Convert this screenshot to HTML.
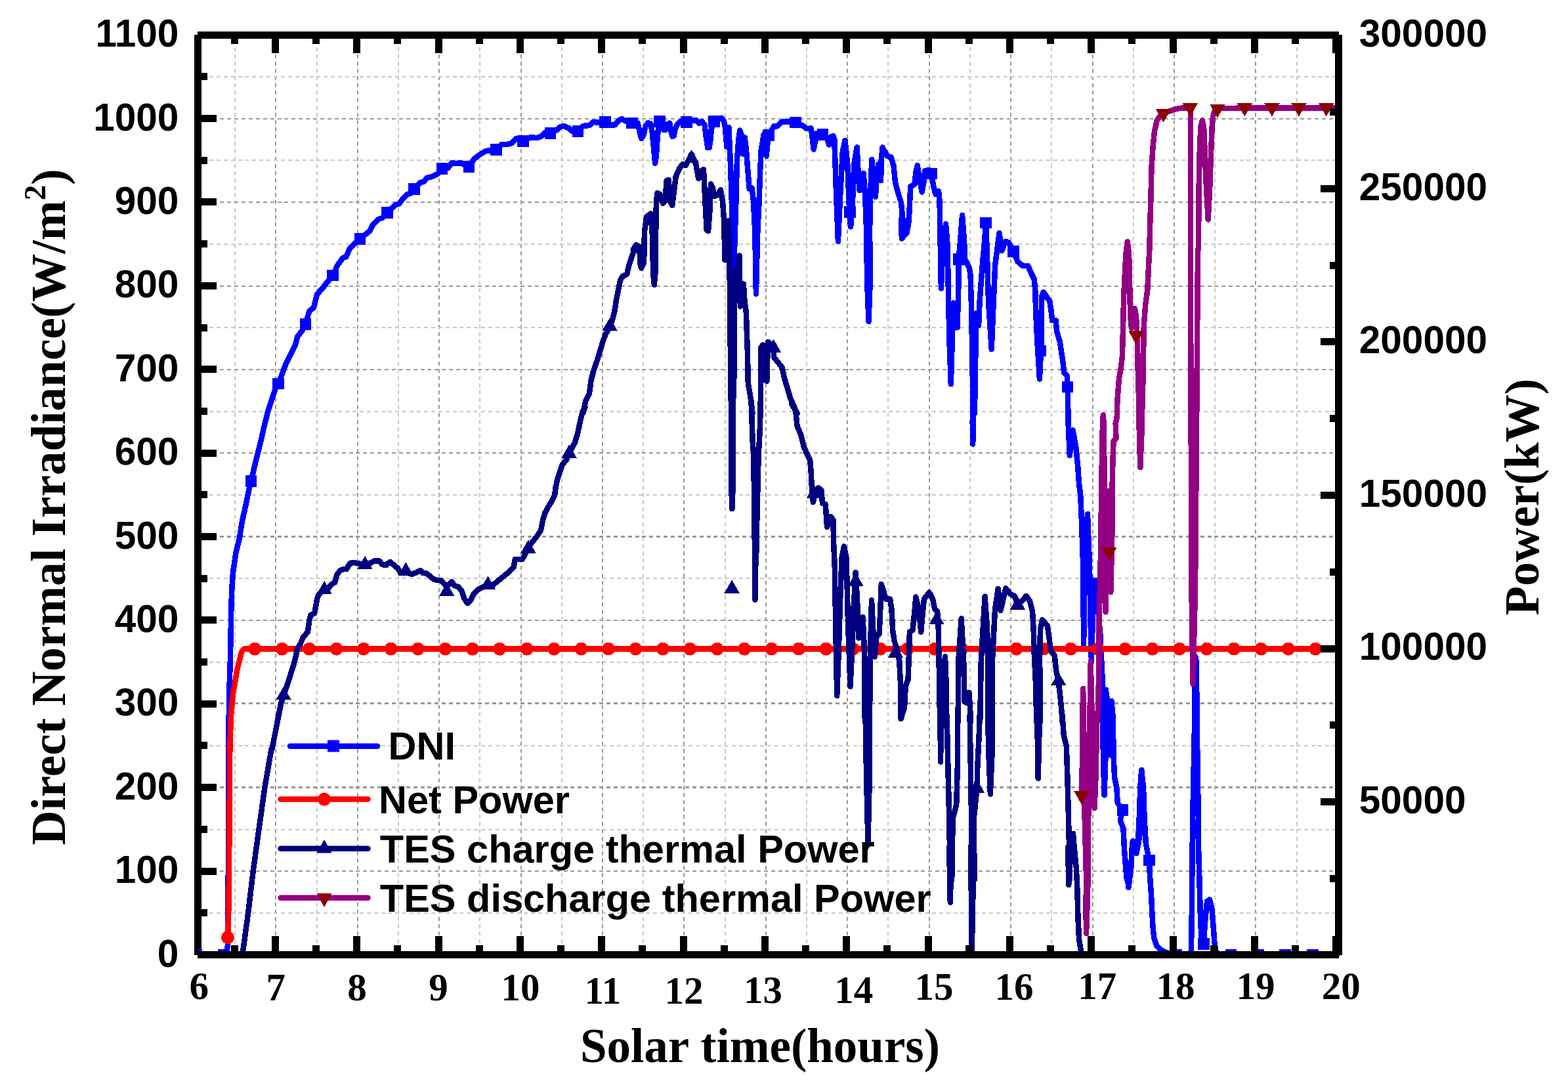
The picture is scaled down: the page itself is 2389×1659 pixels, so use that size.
<!DOCTYPE html>
<html lang="en"><head><meta charset="utf-8"><title>DNI and Power vs Solar time</title>
<style>html,body{margin:0;padding:0;background:#fff;}body{width:2389px;height:1659px;overflow:hidden;}svg{display:block;}.sans{font-family:"Liberation Sans",Arial,Helvetica,sans-serif;font-weight:bold;}.serif{font-family:"Liberation Serif","Times New Roman",Times,serif;font-weight:bold;}</style></head><body>
<svg width="2389" height="1659" viewBox="0 0 2389 1659">
<rect x="0" y="0" width="2389" height="1659" fill="#ffffff"/>
<g shape-rendering="crispEdges" fill="none"><line x1="358" y1="71.5" x2="358" y2="1449" stroke="#c8c8c8" stroke-width="2" stroke-dasharray="6 5.14"/><line x1="420" y1="71.5" x2="420" y2="1449" stroke="#999999" stroke-width="2" stroke-dasharray="6 5.14"/><line x1="483" y1="71.5" x2="483" y2="1449" stroke="#c8c8c8" stroke-width="2" stroke-dasharray="6 5.14"/><line x1="545" y1="71.5" x2="545" y2="1449" stroke="#999999" stroke-width="2" stroke-dasharray="6 5.14"/><line x1="607" y1="71.5" x2="607" y2="1449" stroke="#c8c8c8" stroke-width="2" stroke-dasharray="6 5.14"/><line x1="669" y1="71.5" x2="669" y2="1449" stroke="#999999" stroke-width="2" stroke-dasharray="6 5.14"/><line x1="731" y1="71.5" x2="731" y2="1449" stroke="#c8c8c8" stroke-width="2" stroke-dasharray="6 5.14"/><line x1="794" y1="71.5" x2="794" y2="1449" stroke="#999999" stroke-width="2" stroke-dasharray="6 5.14"/><line x1="856" y1="71.5" x2="856" y2="1449" stroke="#c8c8c8" stroke-width="2" stroke-dasharray="6 5.14"/><line x1="918" y1="71.5" x2="918" y2="1449" stroke="#999999" stroke-width="2" stroke-dasharray="6 5.14"/><line x1="980" y1="71.5" x2="980" y2="1449" stroke="#c8c8c8" stroke-width="2" stroke-dasharray="6 5.14"/><line x1="1042" y1="71.5" x2="1042" y2="1449" stroke="#999999" stroke-width="2" stroke-dasharray="6 5.14"/><line x1="1105" y1="71.5" x2="1105" y2="1449" stroke="#c8c8c8" stroke-width="2" stroke-dasharray="6 5.14"/><line x1="1167" y1="71.5" x2="1167" y2="1449" stroke="#999999" stroke-width="2" stroke-dasharray="6 5.14"/><line x1="1229" y1="71.5" x2="1229" y2="1449" stroke="#c8c8c8" stroke-width="2" stroke-dasharray="6 5.14"/><line x1="1291" y1="71.5" x2="1291" y2="1449" stroke="#999999" stroke-width="2" stroke-dasharray="6 5.14"/><line x1="1353" y1="71.5" x2="1353" y2="1449" stroke="#c8c8c8" stroke-width="2" stroke-dasharray="6 5.14"/><line x1="1416" y1="71.5" x2="1416" y2="1449" stroke="#999999" stroke-width="2" stroke-dasharray="6 5.14"/><line x1="1478" y1="71.5" x2="1478" y2="1449" stroke="#c8c8c8" stroke-width="2" stroke-dasharray="6 5.14"/><line x1="1540" y1="71.5" x2="1540" y2="1449" stroke="#999999" stroke-width="2" stroke-dasharray="6 5.14"/><line x1="1602" y1="71.5" x2="1602" y2="1449" stroke="#c8c8c8" stroke-width="2" stroke-dasharray="6 5.14"/><line x1="1665" y1="71.5" x2="1665" y2="1449" stroke="#999999" stroke-width="2" stroke-dasharray="6 5.14"/><line x1="1727" y1="71.5" x2="1727" y2="1449" stroke="#c8c8c8" stroke-width="2" stroke-dasharray="6 5.14"/><line x1="1789" y1="71.5" x2="1789" y2="1449" stroke="#999999" stroke-width="2" stroke-dasharray="6 5.14"/><line x1="1851" y1="71.5" x2="1851" y2="1449" stroke="#c8c8c8" stroke-width="2" stroke-dasharray="6 5.14"/><line x1="1913" y1="71.5" x2="1913" y2="1449" stroke="#999999" stroke-width="2" stroke-dasharray="6 5.14"/><line x1="1976" y1="71.5" x2="1976" y2="1449" stroke="#c8c8c8" stroke-width="2" stroke-dasharray="6 5.14"/><line x1="318.9" y1="1391.0" x2="2034" y2="1391.0" stroke="#c8c8c8" stroke-width="2" stroke-dasharray="6 4.9"/><line x1="335.3" y1="1327.0" x2="2034" y2="1327.0" stroke="#999999" stroke-width="2" stroke-dasharray="6 4.9"/><line x1="318.9" y1="1264.0" x2="2034" y2="1264.0" stroke="#c8c8c8" stroke-width="2" stroke-dasharray="6 4.9"/><line x1="335.3" y1="1199.5" x2="2034" y2="1199.5" stroke="#999999" stroke-width="3" stroke-dasharray="6 4.9"/><line x1="318.9" y1="1136.0" x2="2034" y2="1136.0" stroke="#c8c8c8" stroke-width="2" stroke-dasharray="6 4.9"/><line x1="335.3" y1="1071.5" x2="2034" y2="1071.5" stroke="#999999" stroke-width="3" stroke-dasharray="6 4.9"/><line x1="318.9" y1="1009.0" x2="2034" y2="1009.0" stroke="#c8c8c8" stroke-width="2" stroke-dasharray="6 4.9"/><line x1="335.3" y1="945.0" x2="2034" y2="945.0" stroke="#999999" stroke-width="2" stroke-dasharray="6 4.9"/><line x1="318.9" y1="881.0" x2="2034" y2="881.0" stroke="#c8c8c8" stroke-width="2" stroke-dasharray="6 4.9"/><line x1="335.3" y1="817.5" x2="2034" y2="817.5" stroke="#999999" stroke-width="3" stroke-dasharray="6 4.9"/><line x1="318.9" y1="754.0" x2="2034" y2="754.0" stroke="#c8c8c8" stroke-width="2" stroke-dasharray="6 4.9"/><line x1="335.3" y1="690.0" x2="2034" y2="690.0" stroke="#999999" stroke-width="2" stroke-dasharray="6 4.9"/><line x1="318.9" y1="627.0" x2="2034" y2="627.0" stroke="#c8c8c8" stroke-width="2" stroke-dasharray="6 4.9"/><line x1="335.3" y1="563.0" x2="2034" y2="563.0" stroke="#999999" stroke-width="2" stroke-dasharray="6 4.9"/><line x1="318.9" y1="499.0" x2="2034" y2="499.0" stroke="#c8c8c8" stroke-width="2" stroke-dasharray="6 4.9"/><line x1="335.3" y1="436.0" x2="2034" y2="436.0" stroke="#999999" stroke-width="2" stroke-dasharray="6 4.9"/><line x1="318.9" y1="372.0" x2="2034" y2="372.0" stroke="#c8c8c8" stroke-width="2" stroke-dasharray="6 4.9"/><line x1="335.3" y1="308.0" x2="2034" y2="308.0" stroke="#999999" stroke-width="2" stroke-dasharray="6 4.9"/><line x1="318.9" y1="244.0" x2="2034" y2="244.0" stroke="#c8c8c8" stroke-width="2" stroke-dasharray="6 4.9"/><line x1="335.3" y1="181.0" x2="2034" y2="181.0" stroke="#999999" stroke-width="2" stroke-dasharray="6 4.9"/><line x1="318.9" y1="117.0" x2="2034" y2="117.0" stroke="#c8c8c8" stroke-width="2" stroke-dasharray="6 4.9"/></g>
<rect x="296" y="53" width="11" height="1402" fill="#000" shape-rendering="crispEdges"/>
<clipPath id="plotclip"><rect x="301.5" y="48" width="1743.5" height="1412"/></clipPath>
<g clip-path="url(#plotclip)" shape-rendering="crispEdges" fill="none" stroke-linejoin="round" stroke-linecap="round" stroke-width="8.5">
<path d="M296.0 1454.7 L344.0 1454.7 L347.0 1440.0 L348.0 1300.0 L348.3 1141.0 L349.0 1062.0 L351.0 1002.0 L352.0 942.0 L353.0 902.0 L355.0 872.0 L359.4 842.0 L364.4 822.0 L364.5 822.1 L369.1 793.3 L374.1 771.2 L379.1 747.2 L382.5 733.2 L388.1 709.2 L393.1 689.2 L398.1 669.1 L402.5 649.1 L408.1 627.1 L414.1 609.1 L420.1 591.1 L423.9 584.3 L430.1 569.1 L436.1 553.0 L443.1 539.0 L450.1 525.0 L453.1 513.0 L460.1 504.0 L465.4 493.9 L471.2 474.3 L478.2 468.2 L483.2 448.2 L492.2 438.2 L498.2 430.2 L507.2 419.6 L514.2 404.2 L522.2 393.2 L527.2 391.2 L533.2 378.2 L540.2 371.2 L548.6 363.8 L558.2 356.1 L563.2 352.1 L568.2 342.1 L576.2 334.1 L582.3 332.1 L589.9 323.7 L602.3 312.1 L608.3 310.1 L614.3 302.1 L620.3 296.1 L626.3 294.1 L630.9 288.1 L640.3 278.1 L646.3 276.1 L650.3 271.1 L658.3 269.1 L666.3 265.1 L673.3 257.1 L682.3 256.1 L688.3 248.1 L694.4 249.1 L701.4 248.1 L714.4 254.1 L722.4 242.1 L730.4 236.0 L740.4 230.0 L748.4 229.0 L756.0 228.1 L764.0 220.1 L772.0 220.1 L780.0 218.1 L786.0 211.1 L797.0 215.1 L808.1 209.1 L818.1 210.1 L824.1 208.1 L830.1 202.1 L838.5 203.1 L848.1 198.1 L854.1 193.0 L859.1 192.0 L866.1 195.0 L872.1 200.1 L880.5 199.7 L888.1 192.0 L898.1 191.0 L903.1 186.0 L910.1 186.4 L922.1 186.0 L933.2 191.0 L937.2 190.0 L943.2 183.0 L947.2 181.0 L952.2 184.0 L960.2 187.6 L963.1 185.2 L971.7 187.6 L974.9 201.7 L977.2 211.1 L980.4 206.4 L983.5 192.3 L987.4 187.3 L991.3 188.4 L993.7 201.7 L996.0 225.2 L998.1 248.7 L999.9 237.7 L1001.5 212.7 L1003.1 193.9 L1005.0 184.8 L1008.6 192.3 L1010.9 197.8 L1014.0 197.8 L1017.2 189.2 L1020.3 187.6 L1022.7 201.7 L1024.5 208.0 L1026.6 207.2 L1028.9 195.4 L1032.1 189.2 L1036.8 185.2 L1046.2 185.7 L1060.3 182.9 L1065.0 187.6 L1069.7 185.2 L1073.6 190.7 L1075.9 209.5 L1078.3 225.2 L1080.6 225.2 L1082.5 212.7 L1083.8 197.0 L1088.1 184.8 L1099.4 179.8 L1102.6 183.7 L1104.9 193.9 L1107.3 223.6 L1110.4 193.9 L1112.7 244.0 L1114.3 291.0 L1115.9 338.0 L1118.2 410.1 L1121.4 306.7 L1122.9 244.0 L1125.3 212.7 L1127.3 198.6 L1130.0 206.4 L1132.3 234.6 L1134.7 209.5 L1137.0 228.3 L1139.4 259.7 L1141.7 287.9 L1145.6 286.3 L1148.0 306.7 L1150.3 353.7 L1151.9 447.7 L1154.3 353.7 L1156.6 306.7 L1158.2 259.7 L1159.7 228.3 L1163.7 204.8 L1167.6 237.7 L1170.7 206.1 L1179.3 192.3 L1184.0 192.3 L1190.3 186.0 L1198.1 185.2 L1211.7 186.3 L1223.2 191.5 L1229.5 196.2 L1235.7 195.4 L1238.1 212.7 L1239.6 227.5 L1242.8 212.7 L1244.3 203.3 L1253.3 204.8 L1260.8 212.7 L1263.1 220.5 L1266.3 208.0 L1269.4 207.2 L1271.3 212.5 L1273.8 287.7 L1276.9 367.9 L1280.7 287.7 L1283.8 231.3 L1287.5 213.8 L1291.3 250.1 L1293.8 312.8 L1296.1 345.4 L1298.8 312.8 L1301.3 250.1 L1305.7 224.4 L1307.6 262.7 L1309.5 290.2 L1313.2 275.2 L1315.7 263.9 L1318.2 300.3 L1320.1 350.4 L1321.1 427.0 L1323.5 489.7 L1325.8 427.0 L1325.1 350.4 L1326.4 287.7 L1328.3 243.2 L1331.4 275.2 L1333.9 299.6 L1336.4 262.7 L1338.3 250.1 L1342.1 275.2 L1342.7 243.9 L1344.6 224.4 L1351.5 237.6 L1357.7 239.5 L1361.5 252.6 L1364.0 277.7 L1369.0 296.5 L1372.8 307.8 L1374.6 325.3 L1373.4 350.4 L1374.0 363.5 L1378.4 357.9 L1381.5 354.8 L1384.7 337.8 L1386.5 300.3 L1387.2 284.0 L1393.4 280.8 L1395.3 262.7 L1397.8 252.0 L1401.6 275.2 L1404.7 292.7 L1407.8 275.2 L1409.1 260.2 L1415.4 258.9 L1419.4 264.4 L1422.2 283.2 L1425.3 295.7 L1430.0 291.0 L1431.6 306.7 L1432.4 353.7 L1433.2 400.0 L1433.9 439.5 L1436.3 380.0 L1441.0 341.1 L1443.3 369.3 L1444.1 400.0 L1444.9 442.7 L1446.5 521.0 L1448.8 585.2 L1450.7 521.0 L1452.7 461.5 L1455.1 481.8 L1458.5 499.1 L1459.8 458.3 L1460.6 427.0 L1460.6 394.9 L1462.9 369.3 L1466.1 327.8 L1469.2 369.3 L1470.0 400.0 L1470.8 395.7 L1477.0 408.2 L1478.6 419.2 L1480.2 474.0 L1481.7 568.0 L1482.5 630.0 L1481.7 641.3 L1482.2 676.6 L1483.0 641.3 L1483.6 610.0 L1484.9 630.0 L1486.4 536.7 L1487.2 477.1 L1491.1 495.9 L1492.7 458.3 L1495.0 427.0 L1497.4 395.7 L1499.0 380.0 L1502.1 339.6 L1503.7 380.0 L1506.0 458.3 L1510.7 532.0 L1513.8 458.3 L1516.2 403.5 L1519.3 380.0 L1522.5 355.2 L1526.4 381.9 L1531.9 367.8 L1536.6 369.3 L1544.1 383.0 L1550.7 398.8 L1558.5 405.1 L1566.3 405.1 L1571.0 416.0 L1575.7 425.4 L1577.3 442.7 L1578.1 474.0 L1580.4 521.0 L1583.9 577.4 L1586.7 521.0 L1586.7 474.0 L1587.5 450.5 L1589.8 445.0 L1594.5 452.1 L1599.2 458.3 L1601.6 474.0 L1603.1 488.1 L1608.6 488.1 L1610.2 505.3 L1614.9 521.0 L1617.2 536.7 L1619.6 552.3 L1621.1 568.0 L1625.8 572.7 L1626.6 588.4 L1627.4 630.0 L1627.4 640.0 L1629.8 694.0 L1632.0 670.0 L1634.5 655.5 L1639.2 680.5 L1642.3 711.8 L1643.9 735.3 L1646.2 754.1 L1647.5 782.3 L1648.6 813.7 L1650.1 860.0 L1651.1 982.0 L1653.0 860.0 L1657.0 783.0 L1660.0 860.0 L1661.3 934.0 L1662.9 1008.4 L1665.2 934.0 L1667.8 888.6 L1672.3 918.3 L1676.2 965.3 L1679.3 1028.0 L1680.1 1090.0 L1680.9 1152.7 L1682.5 1211.4 L1684.5 1152.7 L1684.8 1090.0 L1684.8 1050.7 L1687.2 1067.2 L1688.7 1090.0 L1690.0 1150.3 L1691.4 1090.0 L1693.4 1067.9 L1695.5 1090.0 L1695.8 1090.0 L1696.6 1152.7 L1698.1 1184.0 L1701.3 1199.7 L1702.8 1223.2 L1710.4 1234.1 L1706.8 1249.8 L1711.5 1262.3 L1713.0 1293.7 L1715.4 1325.0 L1716.9 1340.0 L1715.0 1310.1 L1719.4 1352.1 L1723.2 1322.7 L1725.1 1285.1 L1726.3 1281.1 L1729.5 1291.3 L1731.3 1300.1 L1734.5 1285.1 L1736.3 1272.5 L1740.1 1260.0 L1734.2 1278.0 L1735.7 1246.7 L1737.3 1199.7 L1739.2 1173.0 L1742.0 1199.7 L1743.6 1246.7 L1745.9 1285.8 L1749.1 1301.5 L1750.9 1310.6 L1752.0 1335.2 L1753.9 1360.3 L1755.1 1385.3 L1756.4 1410.4 L1758.3 1429.2 L1762.7 1441.7 L1770.2 1448.0 L1780.2 1452.4 L1792.1 1454.3 L1812.2 1454.3 L1815.0 1448.0 L1815.9 1385.3 L1816.6 1291.3 L1817.2 1260.0 L1817.2 1246.7 L1820.3 1090.0 L1820.3 1090.0 L1821.1 1012.3 L1821.9 1001.4 L1823.0 1012.3 L1823.5 1090.0 L1823.5 1090.0 L1825.8 1246.7 L1825.3 1260.0 L1826.6 1310.1 L1827.8 1354.0 L1829.1 1404.1 L1831.0 1435.5 L1833.7 1439.2 L1836.6 1397.9 L1839.1 1372.8 L1842.9 1370.5 L1846.6 1385.3 L1848.5 1410.4 L1850.4 1435.5 L1852.3 1448.0 L1855.4 1454.3 L2037.0 1454.5" stroke="#0000ff"/>
<g fill="#0000ff" stroke="none"><rect x="290.5" y="1445.9" width="17.6" height="17.6"/><rect x="332.0" y="1445.9" width="17.6" height="17.6"/><rect x="373.7" y="724.2" width="17.6" height="17.6"/><rect x="415.1" y="575.5" width="17.6" height="17.6"/><rect x="456.6" y="485.1" width="17.6" height="17.6"/><rect x="498.4" y="410.8" width="17.6" height="17.6"/><rect x="539.8" y="355.0" width="17.6" height="17.6"/><rect x="581.1" y="314.9" width="17.6" height="17.6"/><rect x="622.1" y="279.3" width="17.6" height="17.6"/><rect x="664.5" y="248.3" width="17.6" height="17.6"/><rect x="705.6" y="245.3" width="17.6" height="17.6"/><rect x="747.2" y="219.3" width="17.6" height="17.6"/><rect x="788.2" y="206.3" width="17.6" height="17.6"/><rect x="829.7" y="194.3" width="17.6" height="17.6"/><rect x="871.7" y="190.9" width="17.6" height="17.6"/><rect x="913.3" y="177.2" width="17.6" height="17.6"/><rect x="954.4" y="178.8" width="17.6" height="17.6"/><rect x="996.2" y="176.0" width="17.6" height="17.6"/><rect x="1037.4" y="176.9" width="17.6" height="17.6"/><rect x="1079.3" y="176.0" width="17.6" height="17.6"/><rect x="1161.9" y="197.3" width="17.6" height="17.6"/><rect x="1202.9" y="177.5" width="17.6" height="17.6"/><rect x="1244.5" y="196.0" width="17.6" height="17.6"/><rect x="1286.1" y="314.0" width="17.6" height="17.6"/><rect x="1327.6" y="253.9" width="17.6" height="17.6"/><rect x="1369.2" y="331.6" width="17.6" height="17.6"/><rect x="1410.6" y="255.6" width="17.6" height="17.6"/><rect x="1493.3" y="330.8" width="17.6" height="17.6"/><rect x="1535.3" y="374.2" width="17.6" height="17.6"/><rect x="1451.8" y="386.1" width="17.6" height="17.6"/><rect x="1576.6" y="525.5" width="17.6" height="17.6"/><rect x="1617.7" y="580.8" width="17.6" height="17.6"/><rect x="1659.0" y="879.8" width="17.6" height="17.6"/><rect x="1701.6" y="1225.3" width="17.6" height="17.6"/><rect x="1742.2" y="1301.7" width="17.6" height="17.6"/><rect x="1783.4" y="1445.9" width="17.6" height="17.6"/><rect x="1824.9" y="1429.2" width="17.6" height="17.6"/><rect x="1866.5" y="1445.9" width="17.6" height="17.6"/><rect x="1907.9" y="1445.9" width="17.6" height="17.6"/><rect x="1949.4" y="1445.9" width="17.6" height="17.6"/><rect x="1991.1" y="1445.9" width="17.6" height="17.6"/></g>
<path d="M347.0 1428.2 L348.5 1380.0 L349.2 1300.0 L350.3 1141.0 L352.0 1090.0 L354.5 1060.0 L358.0 1040.0 L361.0 1022.0 L366.0 1002.0 L368.5 992.0 L371.5 988.6 L2034.0 988.6" stroke="#ff0000"/>
<g fill="#ff0000" stroke="none"><circle cx="347.0" cy="1428.2" r="10"/><circle cx="388.3" cy="988.6" r="10"/><circle cx="429.8" cy="988.6" r="10"/><circle cx="471.2" cy="988.6" r="10"/><circle cx="512.6" cy="988.6" r="10"/><circle cx="554.1" cy="988.6" r="10"/><circle cx="595.5" cy="988.6" r="10"/><circle cx="636.9" cy="988.6" r="10"/><circle cx="678.4" cy="988.6" r="10"/><circle cx="719.8" cy="988.6" r="10"/><circle cx="761.2" cy="988.6" r="10"/><circle cx="802.7" cy="988.6" r="10"/><circle cx="844.1" cy="988.6" r="10"/><circle cx="885.6" cy="988.6" r="10"/><circle cx="927.0" cy="988.6" r="10"/><circle cx="968.4" cy="988.6" r="10"/><circle cx="1009.9" cy="988.6" r="10"/><circle cx="1051.3" cy="988.6" r="10"/><circle cx="1092.7" cy="988.6" r="10"/><circle cx="1134.2" cy="988.6" r="10"/><circle cx="1175.6" cy="988.6" r="10"/><circle cx="1217.0" cy="988.6" r="10"/><circle cx="1258.5" cy="988.6" r="10"/><circle cx="1299.9" cy="988.6" r="10"/><circle cx="1341.3" cy="988.6" r="10"/><circle cx="1382.8" cy="988.6" r="10"/><circle cx="1424.2" cy="988.6" r="10"/><circle cx="1465.6" cy="988.6" r="10"/><circle cx="1507.1" cy="988.6" r="10"/><circle cx="1548.5" cy="988.6" r="10"/><circle cx="1590.0" cy="988.6" r="10"/><circle cx="1631.4" cy="988.6" r="10"/><circle cx="1672.8" cy="988.6" r="10"/><circle cx="1714.3" cy="988.6" r="10"/><circle cx="1755.7" cy="988.6" r="10"/><circle cx="1797.1" cy="988.6" r="10"/><circle cx="1838.6" cy="988.6" r="10"/><circle cx="1880.0" cy="988.6" r="10"/><circle cx="1921.4" cy="988.6" r="10"/><circle cx="1962.9" cy="988.6" r="10"/><circle cx="2004.3" cy="988.6" r="10"/></g>
<path d="M370.1 1449.3 L378.1 1391.2 L385.7 1327.2 L394.5 1263.1 L403.5 1199.1 L413.5 1141.0 L414.5 1141.1 L420.1 1112.3 L424.1 1092.2 L428.1 1072.2 L432.5 1058.2 L438.1 1042.2 L443.1 1026.2 L448.1 1010.2 L451.1 998.2 L453.1 988.1 L458.1 980.1 L462.1 970.1 L468.8 963.1 L471.2 946.1 L473.2 937.1 L479.2 934.1 L483.2 912.1 L485.2 906.1 L492.2 900.1 L500.2 896.1 L505.2 890.1 L510.2 887.1 L513.2 876.0 L518.2 869.0 L524.2 867.0 L528.2 867.0 L533.2 858.0 L539.2 857.0 L544.2 858.0 L550.2 859.0 L557.2 860.0 L564.2 858.0 L570.2 854.6 L578.3 854.6 L582.3 860.0 L588.3 861.0 L594.3 856.0 L600.3 861.0 L606.3 866.0 L610.3 873.0 L620.3 872.0 L627.3 875.0 L634.3 872.0 L640.3 869.0 L644.3 873.0 L650.3 873.6 L655.3 878.0 L660.3 882.1 L666.3 884.1 L672.3 884.1 L677.3 890.1 L680.3 894.1 L688.3 886.1 L692.3 892.1 L698.4 894.1 L703.4 900.1 L707.4 912.1 L712.4 919.1 L717.4 914.1 L722.4 904.1 L728.4 898.1 L734.4 895.1 L742.4 891.1 L750.0 892.1 L777.0 870.0 L782.5 864.4 L784.8 851.9 L795.8 851.9 L799.7 845.6 L803.6 834.6 L811.5 825.2 L817.7 817.4 L824.0 808.0 L827.1 792.3 L830.3 781.4 L835.0 772.7 L840.4 764.1 L845.1 754.7 L846.7 742.2 L849.8 728.1 L853.8 717.1 L856.9 707.7 L863.2 699.9 L867.9 688.9 L875.7 674.8 L880.4 659.2 L884.3 640.4 L887.4 627.8 L891.4 620.0 L887.9 630.0 L892.6 610.3 L898.0 599.3 L900.4 580.5 L904.3 564.9 L909.8 549.2 L914.5 533.5 L918.4 521.0 L922.3 510.0 L928.6 499.1 L933.3 486.5 L936.4 474.0 L938.8 458.3 L941.9 442.7 L945.0 427.0 L949.0 420.7 L955.2 417.6 L958.4 403.5 L963.1 389.4 L967.0 380.0 L964.7 380.3 L969.4 373.2 L974.1 375.6 L975.7 403.8 L977.2 408.5 L981.1 400.0 L981.9 353.7 L985.1 330.2 L991.3 325.5 L993.7 353.7 L995.2 416.3 L996.8 433.6 L998.4 416.3 L999.2 353.7 L999.9 306.7 L1001.5 294.1 L1005.4 295.7 L1010.1 309.8 L1013.3 306.7 L1015.6 275.3 L1018.7 273.8 L1021.1 306.7 L1024.2 312.9 L1027.4 287.9 L1029.7 269.1 L1035.2 256.5 L1039.9 250.3 L1044.6 251.8 L1050.1 242.4 L1053.5 234.6 L1060.3 250.3 L1064.2 272.2 L1069.7 259.7 L1072.0 258.1 L1074.4 306.7 L1076.7 350.5 L1079.1 352.1 L1081.4 322.3 L1083.0 280.0 L1085.3 284.7 L1088.5 298.8 L1093.2 297.3 L1097.9 289.4 L1101.0 306.7 L1103.3 338.0 L1104.1 385.0 L1104.4 396.0 L1107.3 353.7 L1109.6 336.4 L1111.6 411.3 L1112.7 521.0 L1113.5 610.0 L1114.0 610.0 L1114.3 735.3 L1115.2 775.3 L1115.7 774.5 L1116.7 735.3 L1117.0 610.0 L1118.2 594.6 L1118.7 474.0 L1118.7 414.5 L1121.4 458.3 L1123.7 411.3 L1126.4 389.4 L1127.3 442.7 L1127.9 466.9 L1130.8 458.3 L1132.8 432.5 L1134.5 458.3 L1137.0 477.1 L1137.8 505.3 L1138.9 536.7 L1139.8 583.7 L1142.5 599.3 L1144.9 615.0 L1146.4 630.0 L1144.5 610.0 L1145.6 641.3 L1146.7 672.7 L1148.0 691.5 L1148.8 735.3 L1149.6 798.0 L1150.0 860.0 L1150.0 840.0 L1150.3 913.6 L1151.4 840.0 L1151.9 860.0 L1153.5 782.3 L1155.0 719.7 L1155.8 691.5 L1157.7 657.0 L1159.0 610.0 L1158.6 630.0 L1159.0 583.7 L1159.7 528.8 L1162.1 525.7 L1163.7 552.3 L1164.4 579.0 L1165.5 552.3 L1166.5 525.7 L1167.6 536.7 L1168.4 580.5 L1169.5 536.7 L1170.7 521.0 L1178.5 528.0 L1179.3 544.5 L1185.6 552.3 L1191.9 560.2 L1195.0 575.8 L1199.7 591.5 L1204.4 607.2 L1210.7 621.3 L1214.6 630.0 L1206.0 614.7 L1212.2 625.7 L1214.6 649.2 L1220.1 661.7 L1224.8 680.5 L1229.5 691.5 L1234.2 700.9 L1235.7 719.7 L1236.5 735.3 L1237.3 751.0 L1238.9 765.1 L1242.0 751.0 L1246.7 743.2 L1251.4 746.3 L1253.0 766.7 L1257.7 768.2 L1260.0 802.7 L1265.5 787.0 L1269.4 791.7 L1270.2 829.3 L1271.7 860.0 L1271.7 860.0 L1273.1 944.0 L1275.2 1059.9 L1277.8 991.0 L1280.2 912.7 L1282.5 850.0 L1285.9 832.5 L1289.6 850.0 L1291.9 944.0 L1295.5 1045.8 L1298.2 991.0 L1300.5 928.3 L1303.7 871.9 L1306.8 928.3 L1308.1 972.2 L1312.3 944.0 L1314.6 940.1 L1317.0 991.0 L1317.8 1100.0 L1318.6 1090.0 L1320.1 1184.0 L1322.5 1285.8 L1324.8 1184.0 L1325.1 1090.0 L1325.1 1100.0 L1325.6 1006.7 L1328.0 914.2 L1330.3 959.7 L1332.7 1000.4 L1335.8 967.5 L1339.7 965.9 L1341.3 928.3 L1342.8 889.9 L1349.9 912.7 L1356.2 912.7 L1358.5 928.3 L1360.1 959.7 L1362.4 975.3 L1367.1 991.0 L1370.3 1006.7 L1371.8 1038.0 L1372.6 1069.3 L1372.6 1095.2 L1378.1 1077.2 L1379.7 1045.8 L1383.6 1034.9 L1385.1 991.0 L1385.9 962.8 L1390.6 959.7 L1393.8 928.3 L1395.3 909.5 L1400.0 928.3 L1403.2 962.8 L1406.3 928.3 L1407.9 912.7 L1415.7 902.5 L1421.2 912.7 L1424.3 928.3 L1428.2 931.5 L1429.8 959.7 L1430.6 1006.7 L1431.4 1053.7 L1432.1 1100.0 L1432.6 1090.0 L1432.9 1160.5 L1434.8 1090.0 L1435.7 1100.0 L1436.8 1038.0 L1440.0 1000.4 L1441.5 1038.0 L1442.3 1100.0 L1442.6 1090.0 L1446.2 1246.7 L1447.8 1340.0 L1446.2 1290.0 L1447.8 1374.6 L1449.8 1290.0 L1450.2 1340.0 L1451.7 1246.7 L1457.2 1226.3 L1458.8 1168.3 L1458.8 1090.0 L1459.6 1100.0 L1460.3 1006.7 L1464.7 942.4 L1468.2 1006.7 L1469.7 1069.3 L1472.9 1070.9 L1476.5 1055.2 L1478.4 1085.0 L1479.1 1100.0 L1477.6 1090.0 L1479.1 1184.0 L1481.5 1340.0 L1479.1 1290.0 L1480.7 1451.4 L1483.8 1290.0 L1484.6 1340.0 L1483.8 1246.7 L1488.5 1200.9 L1489.3 1168.3 L1491.7 1121.3 L1492.5 1090.0 L1493.2 1100.0 L1494.8 1006.7 L1500.6 908.7 L1504.2 959.7 L1505.0 1006.7 L1505.0 1100.0 L1505.0 1090.0 L1506.6 1152.7 L1508.9 1209.8 L1511.3 1152.7 L1511.3 1090.0 L1511.3 1100.0 L1512.0 1006.7 L1516.0 928.3 L1520.7 897.0 L1524.6 929.9 L1528.5 912.7 L1532.4 896.2 L1539.5 904.8 L1545.7 908.0 L1550.4 920.5 L1556.7 915.8 L1563.7 908.0 L1569.2 915.8 L1573.1 931.5 L1574.7 959.7 L1575.5 991.0 L1577.8 1038.0 L1579.4 1100.0 L1580.2 1090.0 L1581.7 1185.6 L1584.1 1090.0 L1584.6 1100.0 L1584.9 1053.7 L1584.1 1006.7 L1584.9 959.7 L1588.0 944.0 L1595.8 953.4 L1599.0 975.3 L1600.5 991.0 L1606.8 998.8 L1609.2 1022.3 L1611.5 1031.7 L1614.6 1053.7 L1617.0 1077.2 L1618.6 1100.0 L1618.6 1090.0 L1620.9 1121.3 L1624.8 1137.0 L1626.4 1184.0 L1628.0 1246.7 L1629.5 1309.3 L1630.0 1340.0 L1627.2 1290.0 L1628.3 1348.0 L1631.9 1290.0 L1635.0 1269.9 L1636.6 1290.0 L1639.7 1321.3 L1641.3 1352.7 L1642.5 1399.7 L1644.1 1431.0 L1646.7 1447.4 L1647.0 1452.9" stroke="#000080"/>
<g fill="#000080" stroke="none"><path d="M420.4 1066.0 L443.8 1066.0 L432.1 1045.6 Z"/><path d="M482.5 905.3 L505.9 905.3 L494.2 884.9 Z"/><path d="M544.5 867.2 L567.9 867.2 L556.2 846.8 Z"/><path d="M606.6 876.8 L630.0 876.8 L618.3 856.4 Z"/><path d="M669.0 907.9 L692.4 907.9 L680.7 887.5 Z"/><path d="M731.7 897.9 L755.1 897.9 L743.4 877.5 Z"/><path d="M793.2 842.7 L816.6 842.7 L804.9 822.3 Z"/><path d="M855.4 697.8 L878.8 697.8 L867.1 677.4 Z"/><path d="M917.5 504.0 L940.9 504.0 L929.2 483.6 Z"/><path d="M1041.8 248.4 L1065.2 248.4 L1053.5 228.0 Z"/><path d="M1103.4 903.7 L1126.8 903.7 L1115.1 883.3 Z"/><path d="M1166.8 536.9 L1190.2 536.9 L1178.5 516.5 Z"/><path d="M1228.9 758.6 L1252.3 758.6 L1240.6 738.2 Z"/><path d="M1292.1 892.6 L1315.5 892.6 L1303.8 872.2 Z"/><path d="M1352.8 1001.9 L1376.2 1001.9 L1364.5 981.5 Z"/><path d="M1415.4 951.3 L1438.8 951.3 L1427.1 930.9 Z"/><path d="M1476.8 1207.7 L1500.2 1207.7 L1488.5 1187.3 Z"/><path d="M1538.7 928.6 L1562.1 928.6 L1550.4 908.2 Z"/><path d="M1601.1 1044.2 L1624.5 1044.2 L1612.8 1023.8 Z"/></g>
<path d="M1648.0 1212.0 L1649.1 1152.7 L1649.6 1090.0 L1649.7 1075.0 L1650.1 1049.1 L1650.8 1075.0 L1651.1 1090.0 L1651.9 1215.3 L1653.5 1278.0 L1655.1 1340.0 L1654.5 1380.0 L1655.0 1422.0 L1656.5 1380.0 L1657.6 1340.0 L1658.2 1246.7 L1659.5 1184.0 L1660.5 1090.0 L1661.0 1059.3 L1661.8 1006.8 L1662.9 1059.3 L1663.7 1090.0 L1664.8 1090.0 L1666.3 1184.0 L1667.6 1231.0 L1669.5 1184.0 L1671.5 1090.0 L1672.6 1090.0 L1674.2 1028.0 L1674.8 934.0 L1676.2 887.0 L1677.0 840.0 L1677.8 778.0 L1678.9 699.7 L1680.1 637.0 L1680.9 632.3 L1682.0 652.7 L1682.5 731.0 L1682.8 840.0 L1683.3 887.0 L1684.4 932.4 L1685.6 887.0 L1686.4 840.0 L1687.2 793.7 L1688.3 748.2 L1689.5 793.7 L1690.3 840.0 L1691.4 871.3 L1692.3 901.9 L1693.4 855.7 L1693.9 840.0 L1694.2 840.0 L1694.5 746.7 L1695.5 699.7 L1696.6 671.5 L1700.5 668.3 L1699.7 644.8 L1701.7 637.0 L1702.4 610.4 L1703.9 590.0 L1703.9 590.0 L1705.2 575.0 L1707.5 562.5 L1709.9 543.7 L1710.7 512.3 L1711.5 481.0 L1712.2 449.7 L1713.8 418.3 L1715.4 387.0 L1717.7 368.2 L1720.1 387.0 L1721.2 434.0 L1722.1 481.0 L1724.0 499.8 L1726.3 481.0 L1728.7 470.0 L1731.0 481.0 L1732.6 512.3 L1733.4 543.7 L1734.2 590.0 L1734.6 590.0 L1735.7 652.7 L1737.3 712.2 L1739.7 652.7 L1740.9 590.0 L1741.2 590.0 L1742.0 543.7 L1742.8 496.7 L1745.1 465.3 L1748.3 441.8 L1749.8 410.5 L1751.4 379.2 L1752.2 340.0 L1752.3 339.9 L1753.4 302.3 L1754.5 255.3 L1756.6 224.0 L1758.9 200.5 L1762.8 183.3 L1768.3 175.4 L1777.7 170.7 L1787.1 167.6 L1796.5 164.8 L1811.4 164.5 L1813.8 167.6 L1813.8 380.0 L1814.5 600.0 L1815.5 900.0 L1817.5 1042.0 L1821.0 900.0 L1823.5 600.0 L1825.0 380.0 L1826.0 380.0 L1826.6 286.7 L1827.9 224.0 L1829.4 192.7 L1831.8 183.3 L1834.1 192.7 L1836.0 239.7 L1838.0 286.7 L1840.7 334.4 L1843.2 286.7 L1844.8 239.7 L1846.7 192.7 L1848.2 177.0 L1851.4 166.8 L1855.0 164.8 L2034.2 164.5" stroke="#940084"/>
<g fill="#8b0000" stroke="none"><path d="M1636.3 1205.2 L1659.7 1205.2 L1648.0 1225.6 Z"/><path d="M1678.3 833.9 L1701.7 833.9 L1690.0 854.3 Z"/><path d="M1719.3 504.0 L1742.7 504.0 L1731.0 524.4 Z"/><path d="M1760.9 166.1 L1784.3 166.1 L1772.6 186.5 Z"/><path d="M1801.7 157.2 L1825.1 157.2 L1813.4 177.6 Z"/><path d="M1843.3 159.1 L1866.7 159.1 L1855.0 179.5 Z"/><path d="M1884.6 157.2 L1908.0 157.2 L1896.3 177.6 Z"/><path d="M1926.3 157.2 L1949.7 157.2 L1938.0 177.6 Z"/><path d="M1967.3 157.2 L1990.7 157.2 L1979.0 177.6 Z"/><path d="M2008.9 157.2 L2032.3 157.2 L2020.6 177.6 Z"/></g>
</g>
<g fill="#000000" shape-rendering="crispEdges"><rect x="2034" y="53" width="11" height="1402"/><rect x="301" y="48" width="1739" height="11"/><rect x="301" y="1449" width="1739" height="11"/><rect x="352" y="59" width="11" height="8"/><rect x="352" y="1440" width="11" height="9"/><rect x="414" y="59" width="11" height="22"/><rect x="414" y="1426" width="11" height="23"/><rect x="476" y="59" width="11" height="8"/><rect x="476" y="1440" width="11" height="9"/><rect x="538" y="59" width="11" height="22"/><rect x="538" y="1426" width="11" height="23"/><rect x="600" y="59" width="11" height="8"/><rect x="600" y="1440" width="11" height="9"/><rect x="663" y="59" width="11" height="22"/><rect x="663" y="1426" width="11" height="23"/><rect x="725" y="59" width="11" height="8"/><rect x="725" y="1440" width="11" height="9"/><rect x="787" y="59" width="11" height="22"/><rect x="787" y="1426" width="11" height="23"/><rect x="849" y="59" width="11" height="8"/><rect x="849" y="1440" width="11" height="9"/><rect x="911" y="59" width="11" height="22"/><rect x="911" y="1426" width="11" height="23"/><rect x="973" y="59" width="11" height="8"/><rect x="973" y="1440" width="11" height="9"/><rect x="1036" y="59" width="11" height="22"/><rect x="1036" y="1426" width="11" height="23"/><rect x="1098" y="59" width="11" height="8"/><rect x="1098" y="1440" width="11" height="9"/><rect x="1160" y="59" width="11" height="22"/><rect x="1160" y="1426" width="11" height="23"/><rect x="1222" y="59" width="11" height="8"/><rect x="1222" y="1440" width="11" height="9"/><rect x="1284" y="59" width="11" height="22"/><rect x="1284" y="1426" width="11" height="23"/><rect x="1346" y="59" width="11" height="8"/><rect x="1346" y="1440" width="11" height="9"/><rect x="1409" y="59" width="11" height="22"/><rect x="1409" y="1426" width="11" height="23"/><rect x="1471" y="59" width="11" height="8"/><rect x="1471" y="1440" width="11" height="9"/><rect x="1533" y="59" width="11" height="22"/><rect x="1533" y="1426" width="11" height="23"/><rect x="1595" y="59" width="11" height="8"/><rect x="1595" y="1440" width="11" height="9"/><rect x="1657" y="59" width="11" height="22"/><rect x="1657" y="1426" width="11" height="23"/><rect x="1719" y="59" width="11" height="8"/><rect x="1719" y="1440" width="11" height="9"/><rect x="1782" y="59" width="11" height="22"/><rect x="1782" y="1426" width="11" height="23"/><rect x="1844" y="59" width="11" height="8"/><rect x="1844" y="1440" width="11" height="9"/><rect x="1906" y="59" width="11" height="22"/><rect x="1906" y="1426" width="11" height="23"/><rect x="1968" y="59" width="11" height="8"/><rect x="1968" y="1440" width="11" height="9"/><rect x="2030" y="59" width="11" height="22"/><rect x="2030" y="1426" width="11" height="23"/><rect x="307" y="1385" width="9" height="11"/><rect x="307" y="1322" width="23" height="11"/><rect x="307" y="1258" width="9" height="11"/><rect x="307" y="1194" width="23" height="11"/><rect x="307" y="1130" width="9" height="11"/><rect x="307" y="1067" width="23" height="11"/><rect x="307" y="1003" width="9" height="11"/><rect x="307" y="939" width="23" height="11"/><rect x="307" y="876" width="9" height="11"/><rect x="307" y="812" width="23" height="11"/><rect x="307" y="748" width="9" height="11"/><rect x="307" y="685" width="23" height="11"/><rect x="307" y="621" width="9" height="11"/><rect x="307" y="557" width="23" height="11"/><rect x="307" y="494" width="9" height="11"/><rect x="307" y="430" width="23" height="11"/><rect x="307" y="366" width="9" height="11"/><rect x="307" y="302" width="23" height="11"/><rect x="307" y="239" width="9" height="11"/><rect x="307" y="175" width="23" height="11"/><rect x="307" y="111" width="9" height="11"/><rect x="2026" y="1333" width="8" height="11"/><rect x="2012" y="1216" width="22" height="11"/><rect x="2026" y="1099" width="8" height="11"/><rect x="2012" y="983" width="22" height="11"/><rect x="2026" y="866" width="8" height="11"/><rect x="2012" y="749" width="22" height="11"/><rect x="2026" y="632" width="8" height="11"/><rect x="2012" y="515" width="22" height="11"/><rect x="2026" y="399" width="8" height="11"/><rect x="2012" y="282" width="22" height="11"/><rect x="2026" y="165" width="8" height="11"/></g>
<g class="sans" font-size="58.5" fill="#000"><text x="272.3" y="1472.6" text-anchor="end">0</text><text x="272.3" y="1345.2" text-anchor="end">100</text><text x="272.3" y="1217.8" text-anchor="end">200</text><text x="272.3" y="1090.4" text-anchor="end">300</text><text x="272.3" y="963.0" text-anchor="end">400</text><text x="272.3" y="835.6" text-anchor="end">500</text><text x="272.3" y="708.2" text-anchor="end">600</text><text x="272.3" y="580.8" text-anchor="end">700</text><text x="272.3" y="453.4" text-anchor="end">800</text><text x="272.3" y="326.0" text-anchor="end">900</text><text x="272.3" y="198.6" text-anchor="end">1000</text><text x="272.3" y="71.2" text-anchor="end">1100</text></g>
<g class="sans" font-size="58.5" fill="#000"><text x="2070.8" y="1238.9">50000</text><text x="2070.8" y="1005.4">100000</text><text x="2070.8" y="771.8">150000</text><text x="2070.8" y="538.2">200000</text><text x="2070.8" y="304.7">250000</text><text x="2070.8" y="71.1">300000</text></g>
<g class="serif" font-size="59" fill="#000"><text x="303.3" y="1521.5" text-anchor="middle">6</text><text x="420.2" y="1524.0" text-anchor="middle">7</text><text x="544.1" y="1524.2" text-anchor="middle">8</text><text x="668.0" y="1524.2" text-anchor="middle">9</text><text x="793.0" y="1524.3" text-anchor="middle">10</text><text x="918.4" y="1529.2" text-anchor="middle">11</text><text x="1041.9" y="1529.2" text-anchor="middle">12</text><text x="1162.5" y="1528.0" text-anchor="middle">13</text><text x="1300.8" y="1528.0" text-anchor="middle">14</text><text x="1422.9" y="1522.8" text-anchor="middle">15</text><text x="1544.9" y="1523.0" text-anchor="middle">16</text><text x="1671.7" y="1521.7" text-anchor="middle">17</text><text x="1791.0" y="1521.7" text-anchor="middle">18</text><text x="1912.9" y="1521.7" text-anchor="middle">19</text><text x="2043.3" y="1522.0" text-anchor="middle">20</text></g>
<text class="serif" font-size="73" fill="#000" text-anchor="middle" x="1158" y="1617.5">Solar time(hours)</text>
<text class="serif" font-size="73.2" fill="#000" text-anchor="middle" transform="translate(99,772.5) rotate(-90)">Direct Normal Irradiance(W/m<tspan font-size="47" dy="-30">2</tspan><tspan dy="30">)</tspan></text>
<text class="serif" font-size="73" fill="#000" text-anchor="middle" transform="translate(2344,757) rotate(-90)">Power(kW)</text>
<g fill="#000"><line x1="442" y1="1136.7" x2="575" y2="1136.7" stroke="#0000ff" stroke-width="8.5" stroke-linecap="round"/><rect x="499" y="1127.5" width="18" height="18" fill="#0000ff"/><text class="sans" font-size="59.5" x="591.5" y="1156.5">DNI</text><line x1="427.5" y1="1217.6" x2="560.5" y2="1217.6" stroke="#ff0000" stroke-width="8.5" stroke-linecap="round"/><circle cx="494" cy="1217.6" r="10" fill="#ff0000"/><text class="sans" font-size="59.5" x="577" y="1238.5">Net Power</text><line x1="427.5" y1="1292.8" x2="560.5" y2="1292.8" stroke="#000080" stroke-width="8.5" stroke-linecap="round"/><path d="M482.5 1299.5 L505.5 1299.5 L494 1279 Z" fill="#000080"/><text class="sans" font-size="59.5" x="578.8" y="1314">TES charge thermal Power</text><line x1="427.5" y1="1367.7" x2="560.5" y2="1367.7" stroke="#940084" stroke-width="8.5" stroke-linecap="round"/><path d="M482.5 1361 L505.5 1361 L494 1382 Z" fill="#8b0000"/><text class="sans" font-size="59.5" x="578.8" y="1389">TES discharge thermal Power</text></g>
</svg></body></html>
